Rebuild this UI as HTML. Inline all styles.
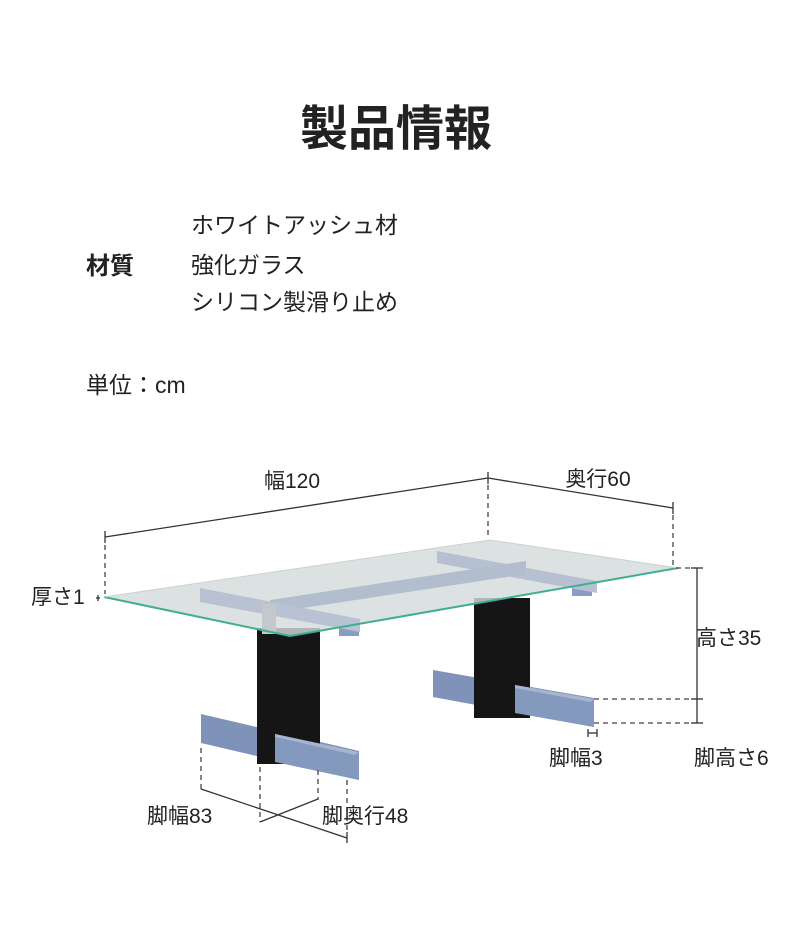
<!DOCTYPE html>
<html><head><meta charset="utf-8"><style>
body{margin:0;background:#fff}
svg{display:block}
text{font-family:"Liberation Sans","Noto Sans CJK JP",sans-serif;fill:#222}
</style></head><body>
<svg width="790" height="938" viewBox="0 0 790 938" xmlns="http://www.w3.org/2000/svg">
<text x="396" y="145" font-size="48" font-weight="bold" text-anchor="middle" fill="#111">製品情報</text>
<text x="86" y="274" font-size="24" font-weight="bold" fill="#111">材質</text>
<text x="191" y="233" font-size="23">ホワイトアッシュ材</text>
<text x="191" y="273" font-size="23">強化ガラス</text>
<text x="191" y="310" font-size="23">シリコン製滑り止め</text>
<text x="86" y="393" font-size="23">単位：cm</text>

<!-- right leg -->
<polygon points="433,670 594,698 594,727 433,697" fill="#7f93b8"/>
<rect x="474" y="598" width="56" height="120" fill="#151515"/>
<polygon points="515,685 594,699 594,727 515,713" fill="#8499be"/>
<polygon points="515,685 594,699 590,702 515,688" fill="#a6b4cf"/>
<!-- left leg -->
<polygon points="201,714 359,751 359,780 201,743" fill="#7f93b8"/>
<rect x="257" y="628" width="63" height="136" fill="#151515"/>
<polygon points="275,734 359,752 359,780 275,762" fill="#8499be"/>
<polygon points="275,734 359,752 355,755 275,737" fill="#a6b4cf"/>
<!-- frame tabs below glass -->
<rect x="339" y="620" width="20" height="16" fill="#8a9cc4"/>
<rect x="572" y="583" width="20" height="13" fill="#8a9cc4"/>
<!-- glass -->
<polygon points="104,597 490,540 678,568 290,636" fill="rgba(212,220,218,0.82)"/>
<!-- frame -->
<polygon points="437,551 597,581 597,593 437,563" fill="#b6c0d0"/>
<polygon points="270,600 526,561 526,574 270,613" fill="#b2bdce"/>
<polygon points="200,588 360,619 360,632 200,602" fill="#b8c2d2"/>
<rect x="262" y="604" width="14" height="30" fill="#c4c8cc"/>
<!-- glass edge -->
<polyline points="104,597 290,636 678,568" fill="none" stroke="#3fae92" stroke-width="2"/>
<polyline points="104,597 490,540 678,568" fill="none" stroke="#c9d2cf" stroke-width="1"/>

<!-- dimension lines -->
<g stroke="#333" stroke-width="1.3" fill="none">
<line x1="105" y1="537" x2="488" y2="478"/>
<line x1="488" y1="478" x2="673" y2="508"/>
<line x1="105" y1="531" x2="105" y2="543"/>
<line x1="488" y1="472" x2="488" y2="484"/>
<line x1="673" y1="502" x2="673" y2="514"/>
<line x1="697" y1="568" x2="697" y2="723"/>
<line x1="691" y1="568" x2="703" y2="568"/>
<line x1="691" y1="699" x2="703" y2="699"/>
<line x1="691" y1="723" x2="703" y2="723"/>
<line x1="201" y1="789" x2="347" y2="838"/>
<line x1="260" y1="822" x2="318" y2="799"/>
<line x1="347" y1="832" x2="347" y2="843"/>
<line x1="98" y1="595" x2="98" y2="601"/>
<line x1="96" y1="598" x2="100" y2="598"/>
<line x1="588" y1="733" x2="597" y2="733"/>
<line x1="588" y1="729" x2="588" y2="737"/>
<line x1="597" y1="729" x2="597" y2="737"/>
</g>
<g stroke="#444" stroke-width="1.3" fill="none" stroke-dasharray="5,4">
<line x1="105" y1="545" x2="105" y2="594"/>
<line x1="488" y1="485" x2="488" y2="537"/>
<line x1="673" y1="515" x2="673" y2="566"/>
<line x1="676" y1="568" x2="695" y2="568"/>
<line x1="594" y1="699" x2="695" y2="699"/>
<line x1="594" y1="723" x2="695" y2="723"/>
<line x1="201" y1="748" x2="201" y2="790"/>
<line x1="260" y1="767" x2="260" y2="822"/>
<line x1="318" y1="770" x2="318" y2="800"/>
<line x1="347" y1="780" x2="347" y2="832"/>
</g>

<g font-size="21">
<text x="292" y="488" text-anchor="middle">幅120</text>
<text x="598" y="486" text-anchor="middle">奥行60</text>
<text x="31" y="604">厚さ1</text>
<text x="696" y="645">高さ35</text>
<text x="549" y="765">脚幅3</text>
<text x="694" y="765">脚高さ6</text>
<text x="147" y="823">脚幅83</text>
<text x="322" y="823">脚奥行48</text>
</g>
</svg>
</body></html>
